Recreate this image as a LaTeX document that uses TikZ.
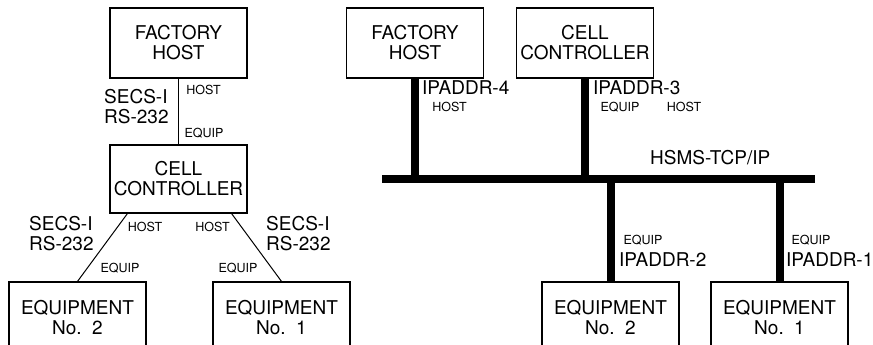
\documentclass[tikz,border=0pt]{standalone}
\usepackage{fontspec}
\setmainfont{TeX Gyre Heros}
\usetikzlibrary{calc}
\tikzset{
  box/.style={draw, line width=1.2pt, minimum width=137pt, minimum height=70pt, align=center, inner sep=0pt,
    font=\fontsize{19}{20}\selectfont},
  big/.style={inner sep=0pt, align=left, anchor=west, font=\fontsize{19}{19.5}\selectfont},
  small/.style={inner sep=0pt, font=\fontsize{12.5}{13}\selectfont},
  thin/.style={line width=1pt},
  bus/.style={line width=8pt, line cap=butt},
}
\begin{document}
\begin{tikzpicture}[x=1pt,y=-1pt]
\useasboundingbox (0,0) rectangle (873,345);
\clip (0,0) rectangle (873,345);
% ---------- left diagram ----------
\node[box] (fhL) at (178.5,43) {FACTORY\\HOST};
\node[box, minimum height=68pt] (ccL) at (178.5,179) {CELL\\CONTROLLER};
\node[box, minimum height=71pt] (e2L) at (77.5,317.5) {EQUIPMENT\\No.\hspace{0.55em}2};
\node[box, minimum height=71pt] (e1L) at (281.5,317.5) {EQUIPMENT\\No.\hspace{0.55em}1};
\draw[thin] (fhL.south) -- (ccL.north);
\draw[thin] ($(ccL.south west)+(18,0)$) -- (e2L.north);
\draw[thin] ($(ccL.south east)+(-16,0)$) -- (e1L.north);
\node[big] (s1) at (104,106.5) {SECS-I\\RS-232};
\node[small] (h1) at (203.5,90) {HOST};
\node[small] (q1) at (204,133) {EQUIP};
\node[big] (s2) at (29,233.5) {SECS-I\\RS-232};
\node[big] (s3) at (266,233.5) {SECS-I\\RS-232};
\node[small] (h2) at (145,227) {HOST};
\node[small] (h3) at (212.5,227) {HOST};
\node[small] (q2) at (120,268) {EQUIP};
\node[small] (q3) at (238,268) {EQUIP};
% ---------- right diagram ----------
\node[box] (fhR) at (415,43) {FACTORY\\HOST};
\node[box] (ccR) at (585,43) {CELL\\CONTROLLER};
\node[box, minimum height=71pt] (e2R) at (610.5,317.5) {EQUIPMENT\\No.\hspace{0.55em}2};
\node[box, minimum height=71pt] (e1R) at (779.5,317.5) {EQUIPMENT\\No.\hspace{0.55em}1};
\coordinate (busL) at (382,179);
\coordinate (busR) at (815,179);
\draw[bus] (busL) -- (busR);
\draw[bus] (fhR.south) -- (fhR.south |- busL);
\draw[bus] (ccR.south) -- (ccR.south |- busL);
\draw[bus] (e2R.north) -- (e2R.north |- busL);
\draw[bus] (e1R.north) -- (e1R.north |- busL);
\node[big] (ip4) at (422,88) {IPADDR-4};
\node[small] (h4) at (449.5,107) {HOST};
\node[big] (ip3) at (593,88) {IPADDR-3};
\node[small] (q4) at (620,107) {EQUIP};
\node[small] (h5) at (684,107) {HOST};
\node[big] (hsms) at (650,158) {HSMS-TCP/IP};
\node[small] (q5) at (643,240) {EQUIP};
\node[big] (ip2) at (619,260) {IPADDR-2};
\node[small] (q6) at (811,240) {EQUIP};
\node[big] (ip1) at (786,260) {IPADDR-1};
\end{tikzpicture}
\end{document}
